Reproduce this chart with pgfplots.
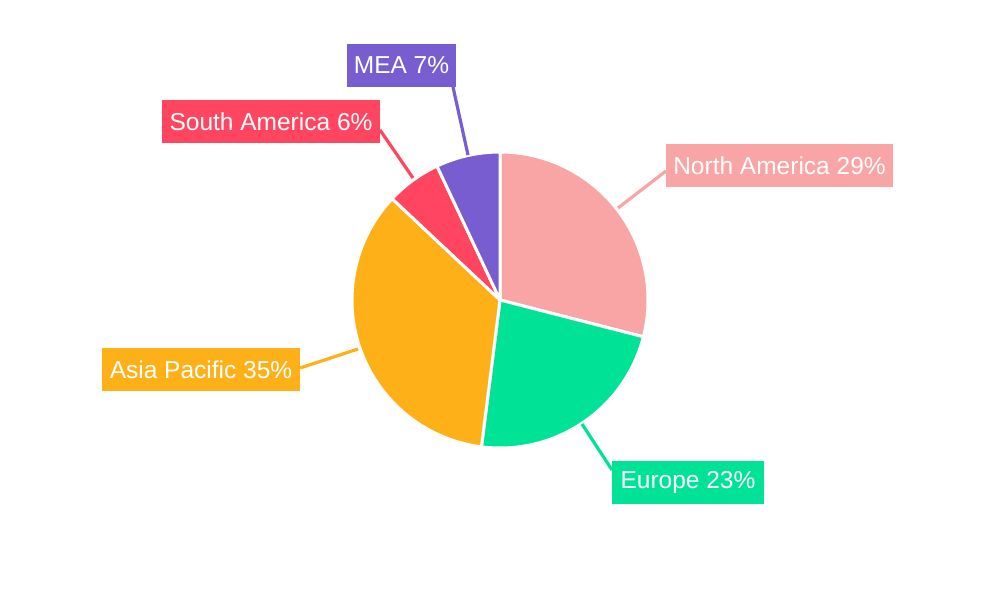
\documentclass[border=0pt]{standalone}
\usepackage{pgfplots}
\pgfplotsset{compat=1.18}
\usepackage{fontspec}
\setmainfont{Liberation Sans}
\definecolor{cNA}{HTML}{F9A4A5}
\definecolor{cEU}{HTML}{00E396}
\definecolor{cAP}{HTML}{FEB019}
\definecolor{cSA}{HTML}{FF4560}
\definecolor{cME}{HTML}{775DD0}
% shares (percent), clockwise from 12 o'clock
\def\vNA{29}\def\vEU{23}\def\vAP{35}\def\vSA{6}\def\vME{7}
\pgfmathsetmacro{\aA}{90}
\pgfmathsetmacro{\aB}{\aA-3.6*\vNA}
\pgfmathsetmacro{\aC}{\aB-3.6*\vEU}
\pgfmathsetmacro{\aD}{\aC-3.6*\vAP}
\pgfmathsetmacro{\aE}{\aD-3.6*\vSA}
\pgfmathsetmacro{\aF}{\aE-3.6*\vME}
\newcommand{\slice}[3]{%
  \filldraw[fill=#1,draw=white,line width=1.5pt,line join=round]
    (axis cs:500,300) -- ([shift={(#2:74pt)}]axis cs:500,300)
    arc[start angle=#2,end angle=#3,radius=74pt] -- cycle;}
\tikzset{lbl/.style={fill=#1,text=white,font=\fontsize{12.25}{14}\selectfont,inner sep=0pt,minimum height=21.5pt}}
\begin{document}
\begin{tikzpicture}
\begin{axis}[
  hide axis, x=0.5pt, y=0.5pt,
  xmin=0, xmax=1000, ymin=0, ymax=600,
  clip=false,
]
\path (axis cs:0,0) rectangle (axis cs:1000,600);
\slice{cNA}{\aA}{\aB}
\slice{cEU}{\aB}{\aC}
\slice{cAP}{\aC}{\aD}
\slice{cSA}{\aD}{\aE}
\slice{cME}{\aE}{\aF}
% leader lines
\draw[cNA,line width=1.6pt] (axis cs:618,392) -- (axis cs:666,429);
\draw[cME,line width=1.6pt] (axis cs:468,445) -- (axis cs:453,513);
\draw[cSA,line width=1.6pt] (axis cs:413,422) -- (axis cs:380,470);
\draw[cAP,line width=1.6pt] (axis cs:358,251) -- (axis cs:300,232);
\draw[cEU,line width=1.6pt] (axis cs:582,176) -- (axis cs:612,130);
% labels
\node[lbl=cNA,minimum width=113.5pt] at (axis cs:779.5,434.5) {North America \vNA\%};
\node[lbl=cME,minimum width=54.5pt] at (axis cs:401.5,534.5) {MEA \vME\%};
\node[lbl=cSA,minimum width=109pt] at (axis cs:271,478) {South America \vSA\%};
\node[lbl=cAP,minimum width=99pt] at (axis cs:201,230.5) {Asia Pacific \vAP\%};
\node[lbl=cEU,minimum width=76pt] at (axis cs:688,118) {Europe \vEU\%};
\end{axis}
\end{tikzpicture}
\end{document}
